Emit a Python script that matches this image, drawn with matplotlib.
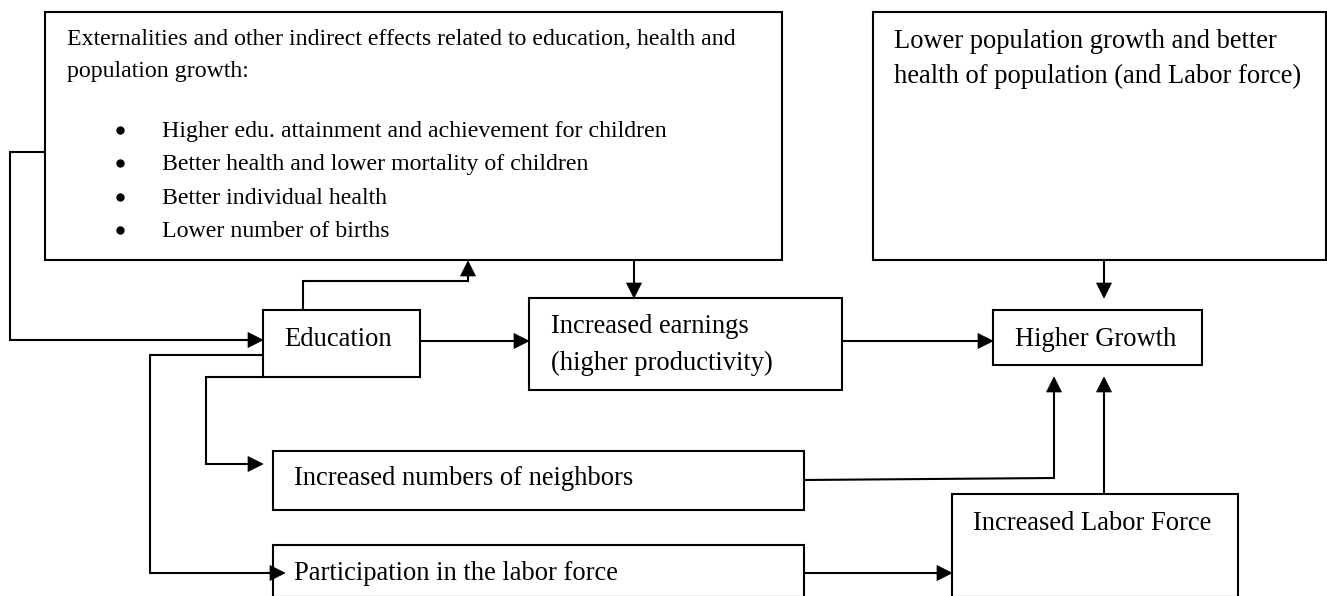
import matplotlib
matplotlib.use("Agg")
import matplotlib.pyplot as plt
from matplotlib.patches import Rectangle, Polygon

# ---- content ----
ext_header = ["Externalities and other indirect effects related to education, health and",
              "population growth:"]
ext_bullets = ["Higher edu. attainment and achievement for children",
               "Better health and lower mortality of children",
               "Better individual health",
               "Lower number of births"]
pop_text = ["Lower population growth and better",
            "health of population (and Labor force)"]
education_label = "Education"
earnings_text = ["Increased earnings", "(higher productivity)"]
growth_label = "Higher Growth"
neighbors_label = "Increased numbers of neighbors"
participation_label = "Participation in the labor force"
laborforce_label = "Increased Labor Force"

W, H = 1327, 596
fig = plt.figure(figsize=(W / 100, H / 100), dpi=100)
ax = fig.add_axes([0, 0, 1, 1])
ax.set_xlim(0, W)
ax.set_ylim(H, 0)
ax.axis("off")

LW = 1.5
FONT = "Liberation Serif"


def box(x0, y0, x1, y1):
    ax.add_patch(Rectangle((x0, y0), x1 - x0, y1 - y0, fill=False,
                           edgecolor="black", linewidth=LW, clip_on=True))


def text(x, y, s, size=19.1):
    ax.text(x, y, s, fontsize=size, family=FONT, va="baseline", ha="left", color="black")


def path(pts):
    xs = [p[0] for p in pts]
    ys = [p[1] for p in pts]
    ax.plot(xs, ys, color="black", linewidth=LW, solid_capstyle="butt",
            solid_joinstyle="miter")


def head(tip, direction, L=15, Wd=7.5):
    x, y = tip
    if direction == "right":
        pts = [(x, y), (x - L, y - Wd), (x - L, y + Wd)]
    elif direction == "left":
        pts = [(x, y), (x + L, y - Wd), (x + L, y + Wd)]
    elif direction == "up":
        pts = [(x, y), (x - Wd, y + L), (x + Wd, y + L)]
    else:
        pts = [(x, y), (x - Wd, y - L), (x + Wd, y - L)]
    ax.add_patch(Polygon(pts, closed=True, facecolor="black", edgecolor="black",
                         linewidth=0.5))


def arrow(pts, direction):
    tip = pts[-1]
    path(pts[:-1] + [(tip[0] + (-8 if direction == "right" else 8 if direction == "left" else 0),
                      tip[1] + (8 if direction == "up" else -8 if direction == "down" else 0))])
    head(tip, direction)


# ---- boxes ----
box(45, 12, 782, 260)          # externalities
box(873, 12, 1326, 260)        # population
box(263, 310, 420, 377)        # education
box(529, 298, 842, 390)        # earnings
box(993, 310, 1202, 365)       # higher growth
box(273, 451, 804, 510)        # neighbors
box(273, 545, 804, 596.5)      # participation
box(952, 494, 1238, 596.5)     # labor force

# ---- texts ----
text(67, 45, ext_header[0], 17.2)
text(67, 77, ext_header[1], 17.2)
for i, b in enumerate(ext_bullets):
    yb = 137 + i * 33.3
    ax.plot([120], [yb - 7], marker="o", markersize=5, color="black", linestyle="none")
    text(162, yb, b, 17.2)
text(894, 48, pop_text[0])
text(894, 83, pop_text[1])
text(284, 346, education_label)
text(551, 333, earnings_text[0])
text(551, 370, earnings_text[1])
text(1015, 346, growth_label)
text(294, 485, neighbors_label)
text(294, 580, participation_label)
text(973, 530, laborforce_label)

# ---- connectors ----
arrow([(45, 152), (10, 152), (10, 340), (263, 340)], "right")
arrow([(303, 310), (303, 281), (468, 281), (468, 261)], "up")
arrow([(634, 260), (634, 298)], "down")
arrow([(420, 341), (529, 341)], "right")
arrow([(842, 341), (993, 341)], "right")
arrow([(1104, 260), (1104, 298)], "down")
arrow([(804, 480), (1054, 478), (1054, 377)], "up")
arrow([(1104, 494), (1104, 377)], "up")
arrow([(263, 377), (206, 377), (206, 464), (263, 464)], "right")
arrow([(263, 355), (150, 355), (150, 573), (285, 573)], "right")
arrow([(804, 573), (952, 573)], "right")

fig.savefig("out.png", dpi=100)
